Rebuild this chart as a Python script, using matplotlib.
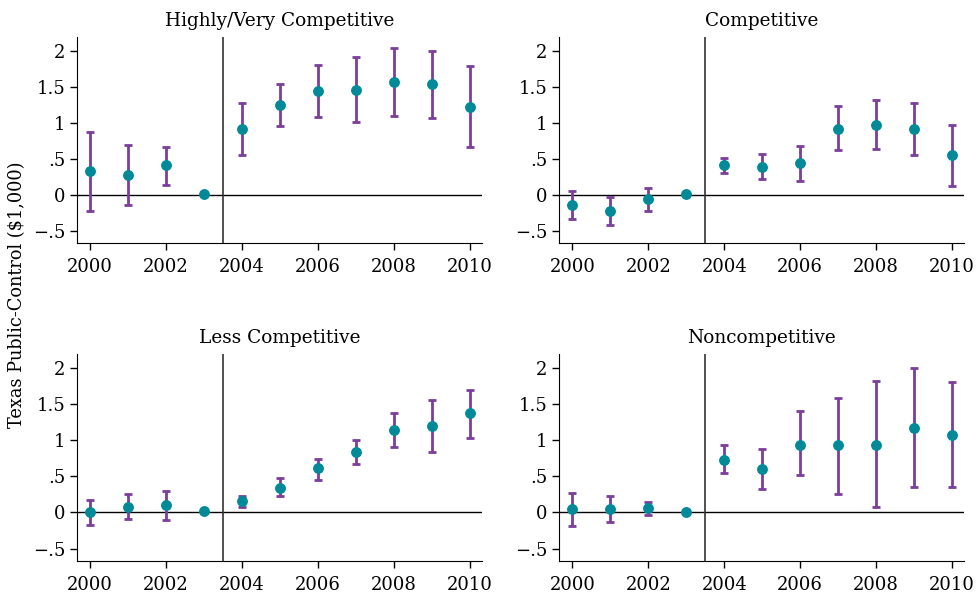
import numpy as np
import matplotlib
matplotlib.use("Agg")
import matplotlib.pyplot as plt

plt.rcParams['font.family'] = ['DejaVu Serif']

years = [2000, 2001, 2002, 2003, 2004, 2005, 2006, 2007, 2008, 2009, 2010]
titles = ['Highly/Very Competitive', 'Competitive', 'Less Competitive', 'Noncompetitive']

# point estimates and 95% bounds, 2003 is the reference year (no interval)
highly_est = [0.33, 0.27, 0.41, 0.01, 0.92, 1.25, 1.44, 1.46, 1.57, 1.54, 1.22]
highly_hi = [0.87, 0.69, 0.67, 0.01, 1.28, 1.54, 1.80, 1.91, 2.03, 2.00, 1.79]
highly_lo = [-0.22, -0.14, 0.14, 0.01, 0.55, 0.95, 1.08, 1.01, 1.09, 1.07, 0.66]

comp_est = [-0.14, -0.22, -0.06, 0.01, 0.42, 0.39, 0.44, 0.92, 0.97, 0.92, 0.55]
comp_hi = [0.05, -0.03, 0.10, 0.01, 0.51, 0.56, 0.68, 1.23, 1.31, 1.28, 0.97]
comp_lo = [-0.34, -0.42, -0.22, 0.01, 0.30, 0.22, 0.19, 0.62, 0.63, 0.55, 0.12]

less_est = [0.00, 0.08, 0.10, 0.02, 0.16, 0.34, 0.61, 0.83, 1.14, 1.19, 1.37]
less_hi = [0.17, 0.25, 0.30, 0.02, 0.23, 0.47, 0.74, 1.00, 1.37, 1.55, 1.69]
less_lo = [-0.17, -0.09, -0.10, 0.02, 0.08, 0.22, 0.45, 0.67, 0.91, 0.83, 1.03]

non_est = [0.04, 0.05, 0.06, 0.01, 0.73, 0.60, 0.93, 0.93, 0.93, 1.17, 1.07]
non_hi = [0.27, 0.22, 0.15, 0.01, 0.93, 0.87, 1.40, 1.58, 1.82, 1.99, 1.80]
non_lo = [-0.19, -0.13, -0.04, 0.01, 0.55, 0.32, 0.52, 0.25, 0.07, 0.35, 0.35]

panels = [(highly_est, highly_lo, highly_hi), (comp_est, comp_lo, comp_hi),
          (less_est, less_lo, less_hi), (non_est, non_lo, non_hi)]

yticks = [-0.5, 0, 0.5, 1, 1.5, 2]
ytick_labels = ['\u2212.5', '0', '.5', '1', '1.5', '2']
xticks = [2000, 2002, 2004, 2006, 2008, 2010]

purple = '#7b3f9b'
teal = '#008a98'

fig = plt.figure(figsize=(9.78, 5.96), dpi=100)
boxes = [[0.079, 0.592, 0.414, 0.346], [0.572, 0.592, 0.414, 0.346],
         [0.079, 0.059, 0.414, 0.347], [0.572, 0.059, 0.414, 0.347]]

for box, title, (est, lo, hi) in zip(boxes, titles, panels):
    ax = fig.add_axes(box)
    est = np.array(est)
    err = [est - np.array(lo), np.array(hi) - est]
    ax.axhline(0, color='black', lw=1, zorder=1)
    ax.axvline(2003.5, color='#333333', lw=1.2, zorder=1)
    ax.errorbar(years, est, yerr=err, fmt='none', ecolor=purple, elinewidth=2,
                capsize=3.2, capthick=2, zorder=2)
    ax.plot(years, est, 'o', color=teal, ms=6.8, zorder=3)
    ax.set_xlim(1999.66, 2010.32)
    ax.set_ylim(-0.67, 2.19)
    ax.set_yticks(yticks)
    ax.set_yticklabels(ytick_labels)
    ax.set_xticks(xticks)
    ax.tick_params(labelsize=13, length=5, width=1)
    ax.tick_params(axis='x', pad=6)
    ax.spines['top'].set_visible(False)
    ax.spines['right'].set_visible(False)
    ax.set_title(title, fontsize=13.3, pad=8)

fig.text(0.017, 0.505, 'Texas Public-Control ($1,000)', rotation=90,
         ha='center', va='center', fontsize=12.8)

fig.savefig('out.png', dpi=100)
